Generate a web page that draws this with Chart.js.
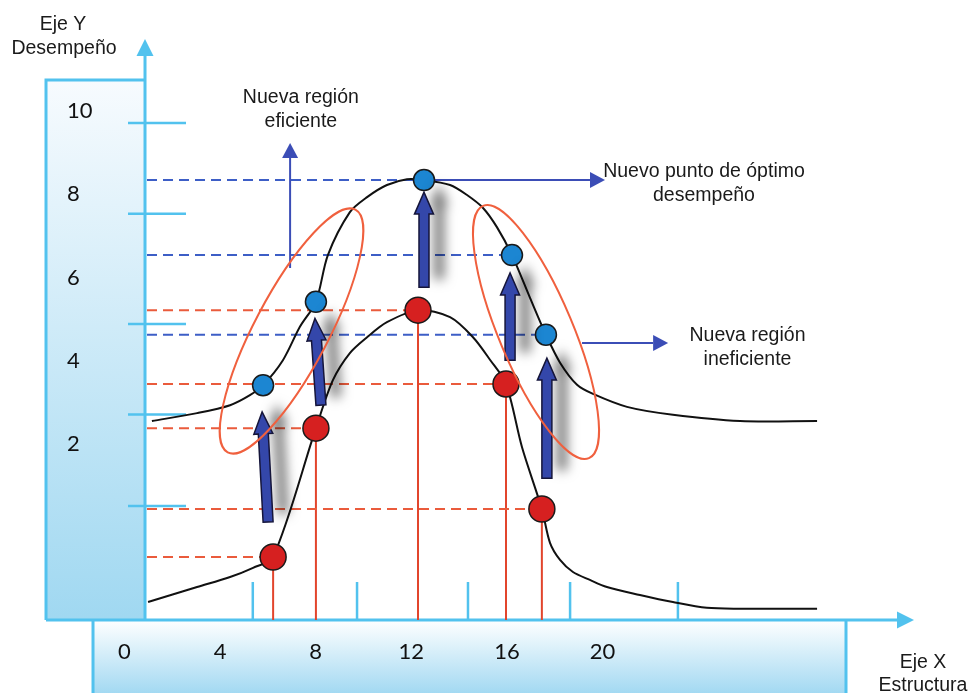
<!DOCTYPE html>
<html>
<head>
<meta charset="utf-8">
<script src="https://cdn.jsdelivr.net/npm/chart.js@4"></script>
<style>
  html, body { margin: 0; padding: 0; background: #ffffff; }
  #c { display: block; }
</style>
</head>
<body>
<canvas id="c" width="970" height="693"></canvas>
<script>
// ---------- DATA ----------
const xTickValues = [0, 4, 8, 12, 16, 20];
const xTickLabels = ['0', '4', '8', '12', '16', '20'];
const yTickValues = [10, 8, 6, 4, 2];
const yTickLabels = ['10', '8', '6', '4', '2'];
const xMinorTicks = [5.37, 9.73, 14.37, 18.64, 23.15];
const yMinorTicks = [9.71, 7.53, 4.89, 2.72, 0.52];

// upper (new) performance curve
const upperX = [1.15, 3.04, 4.42, 5.25, 5.80, 6.63, 7.34, 8.01, 8.51, 9.43, 10.15, 10.98, 11.82, 12.53, 13.62, 14.33, 15.00, 15.58, 16.21, 16.96, 17.63, 18.22, 18.93, 19.60, 21.02, 22.94, 25.75, 28.97];
const upperY = [2.56, 2.75, 2.94, 3.18, 3.42, 4.02, 4.82, 5.42, 6.54, 7.57, 7.93, 8.22, 8.36, 8.34, 8.22, 7.98, 7.67, 7.21, 6.54, 5.52, 4.63, 3.96, 3.43, 3.21, 2.90, 2.71, 2.56, 2.56];
// lower (original) performance curve
const lowerX = [0.99, 3.04, 4.42, 5.38, 6.22, 8.01, 8.72, 9.43, 10.15, 10.98, 12.28, 13.62, 14.58, 15.29, 15.96, 16.63, 17.46, 17.80, 18.22, 18.76, 19.47, 20.18, 21.56, 22.94, 24.36, 25.75, 28.97];
const lowerY = [-1.78, -1.42, -1.18, -0.96, -0.70, 2.39, 3.54, 4.19, 4.57, 4.93, 5.22, 5.05, 4.57, 4.03, 3.45, 1.93, 0.45, -0.36, -0.77, -1.06, -1.25, -1.42, -1.61, -1.78, -1.92, -1.94, -1.94];

// original points (red) and new points (blue)
const redX = [6.22, 8.01, 12.28, 15.96, 17.46];
const redY = [-0.70, 2.39, 5.22, 3.45, 0.45];
const blueX = [5.80, 8.01, 12.53, 16.21, 17.63];
const blueY = [3.42, 5.42, 8.34, 6.54, 4.63];
const blueGuideIndex = [2, 3, 4];

// thick "lift" arrows (from -> to, data units)
const liftFromX = [6.01, 8.22, 12.53, 16.13, 17.67];
const liftFromY = [0.14, 2.94, 5.77, 4.02, 1.19];
const liftToX = [5.76, 7.97, 12.53, 16.13, 17.67];
const liftToY = [2.78, 5.02, 8.05, 6.11, 4.07];

// thin note arrows
const noteFromX = [6.93, 12.53, 19.14];
const noteFromY = [6.23, 8.34, 4.43];
const noteToX = [6.93, 20.10, 22.74];
const noteToY = [9.23, 8.34, 4.43];

// region ellipses: major axis end points
const ellA_X = [4.32, 15.00];
const ellA_Y = [1.81, 7.72];
const ellB_X = [9.66, 19.43];
const ellB_Y = [7.63, 1.67];

// annotation texts
const noteTexts = [['Nueva región', 'eficiente'], ['Nuevo punto de óptimo', 'desempeño'], ['Nueva región', 'ineficiente']];
const noteTextX = [7.38, 24.24, 26.06];
const noteTextY = [10.31, 8.53, 4.60];
const yTitle = ['Eje Y', 'Desempeño'];
const xTitle = ['Eje X', 'Estructura'];

// axis crossing positions (data units)
const axisAtX = 0.862;
const axisAtY = -2.211;

// ---------- STYLE ----------
const CYAN = '#52c2ee';
const RED_LINE = '#e2452c';
const RED_DASH = '#ea5b3c';
const BLUE_DASH = '#3d5ec6';
const NOTE_BLUE = '#3b4db6';
const LIFT_BLUE = '#3447aa';
const ELL_RED = '#f0603e';
const TXT_FONT = '19.5px "Liberation Sans", Arial, sans-serif';
const TICK_FONT = '22px Lato, "Open Sans", sans-serif';

const pts = (xs, ys) => xs.map((v, i) => ({ x: v, y: ys[i] }));

function bigArrow(ctx, x1, y1, x2, y2) {
  const ang = Math.atan2(y2 - y1, x2 - x1);
  const len = Math.hypot(x2 - x1, y2 - y1);
  const sw = 5, hw = 9.5, hl = 22;
  ctx.save();
  ctx.translate(x1, y1);
  ctx.rotate(ang);
  ctx.beginPath();
  ctx.moveTo(0, -sw);
  ctx.lineTo(len - hl, -sw);
  ctx.lineTo(len - hl, -hw);
  ctx.lineTo(len, 0);
  ctx.lineTo(len - hl, hw);
  ctx.lineTo(len - hl, sw);
  ctx.lineTo(0, sw);
  ctx.closePath();
  ctx.shadowColor = 'rgba(0,0,0,0.55)';
  ctx.shadowBlur = 12;
  ctx.shadowOffsetX = 15;
  ctx.shadowOffsetY = -8;
  ctx.fillStyle = LIFT_BLUE;
  ctx.fill();
  ctx.shadowColor = 'rgba(0,0,0,0)';
  ctx.lineWidth = 1.5;
  ctx.strokeStyle = '#15153a';
  ctx.stroke();
  ctx.restore();
}

function thinArrow(ctx, x1, y1, x2, y2) {
  const ang = Math.atan2(y2 - y1, x2 - x1);
  const hl = 15, hw = 8;
  const c = Math.cos(ang), s = Math.sin(ang);
  ctx.beginPath();
  ctx.moveTo(x1, y1);
  ctx.lineTo(x2 - hl * c, y2 - hl * s);
  ctx.stroke();
  ctx.beginPath();
  ctx.moveTo(x2, y2);
  ctx.lineTo(x2 - hl * c - hw * s, y2 - hl * s + hw * c);
  ctx.lineTo(x2 - hl * c + hw * s, y2 - hl * s - hw * c);
  ctx.closePath();
  ctx.fill();
}

const deco = {
  id: 'deco',
  beforeDraw(chart) {
    const { ctx, width, height } = chart;
    const xs = chart.scales.x, ys = chart.scales.y;
    const X = v => xs.getPixelForValue(v), Y = v => ys.getPixelForValue(v);
    const ax = X(axisAtX), ay = Y(axisAtY);
    ctx.save();
    ctx.fillStyle = '#ffffff';
    ctx.fillRect(0, 0, width, height);

    // left panel
    const lpL = ax - 99, lpT = 80;
    let g = ctx.createLinearGradient(0, lpT, 0, ay);
    g.addColorStop(0, '#f7fbfe');
    g.addColorStop(1, '#a0d8f1');
    ctx.fillStyle = g;
    ctx.fillRect(lpL, lpT, ax - lpL, ay - lpT);
    // bottom panel
    const bpL = ax - 52, bpR = 846;
    g = ctx.createLinearGradient(0, ay, 0, height);
    g.addColorStop(0, '#ffffff');
    g.addColorStop(1, '#a3d9f2');
    ctx.fillStyle = g;
    ctx.fillRect(bpL, ay, bpR - bpL, height - ay);

    ctx.strokeStyle = CYAN;
    ctx.fillStyle = CYAN;
    ctx.lineWidth = 3;
    ctx.beginPath();
    ctx.moveTo(ax, lpT); ctx.lineTo(lpL, lpT); ctx.lineTo(lpL, ay);
    ctx.moveTo(bpL, ay); ctx.lineTo(bpL, height + 2);
    ctx.moveTo(bpR, ay); ctx.lineTo(bpR, height + 2);
    ctx.stroke();

    // axes
    ctx.beginPath();
    ctx.moveTo(ax, ay); ctx.lineTo(ax, 54);
    ctx.moveTo(lpL, ay); ctx.lineTo(900, ay);
    ctx.stroke();
    ctx.beginPath();
    ctx.moveTo(ax, 39); ctx.lineTo(ax - 8.5, 56); ctx.lineTo(ax + 8.5, 56); ctx.closePath();
    ctx.fill();
    ctx.beginPath();
    ctx.moveTo(914, ay); ctx.lineTo(897, ay - 8.5); ctx.lineTo(897, ay + 8.5); ctx.closePath();
    ctx.fill();

    // decorative minor ticks
    ctx.lineWidth = 2.5;
    ctx.beginPath();
    yMinorTicks.forEach(v => { ctx.moveTo(ax - 17, Y(v)); ctx.lineTo(ax + 41, Y(v)); });
    xMinorTicks.forEach(v => { ctx.moveTo(X(v), ay); ctx.lineTo(X(v), ay - 38); });
    ctx.stroke();

    // tick labels
    ctx.fillStyle = '#111111';
    ctx.font = TICK_FONT;
    ctx.textBaseline = 'middle';
    ctx.textAlign = 'left';
    yTickValues.forEach((v, i) => ctx.fillText(yTickLabels[i], ax - 78, Y(v)));
    ctx.textAlign = 'center';
    xTickValues.forEach((v, i) => ctx.fillText(xTickLabels[i], X(v), ay + 32));

    // axis titles
    ctx.font = TXT_FONT;
    ctx.fillStyle = '#1a1a1a';
    ctx.fillText(yTitle[0], ax - 82, 25);
    ctx.fillText(yTitle[1], ax - 81, 49);
    ctx.fillText(xTitle[0], 923, 663);
    ctx.fillText(xTitle[1], 923, 686);
    ctx.restore();
  },
  beforeDatasetsDraw(chart) {
    const { ctx } = chart;
    const xs = chart.scales.x, ys = chart.scales.y;
    const X = v => xs.getPixelForValue(v), Y = v => ys.getPixelForValue(v);
    const ax = X(axisAtX), ay = Y(axisAtY);
    ctx.save();
    // red verticals
    ctx.strokeStyle = RED_LINE;
    ctx.lineWidth = 2;
    ctx.beginPath();
    redX.forEach((v, i) => { ctx.moveTo(X(v), Y(redY[i])); ctx.lineTo(X(v), ay); });
    ctx.stroke();
    // dashed guides
    ctx.setLineDash([10, 6]);
    ctx.strokeStyle = RED_DASH;
    ctx.beginPath();
    redX.forEach((v, i) => { ctx.moveTo(ax + 2, Y(redY[i])); ctx.lineTo(X(v), Y(redY[i])); });
    ctx.stroke();
    ctx.strokeStyle = BLUE_DASH;
    ctx.beginPath();
    blueGuideIndex.forEach(i => { ctx.moveTo(ax + 2, Y(blueY[i])); ctx.lineTo(X(blueX[i]), Y(blueY[i])); });
    ctx.stroke();
    ctx.setLineDash([]);
    // thin note arrows
    ctx.strokeStyle = NOTE_BLUE;
    ctx.fillStyle = NOTE_BLUE;
    ctx.lineWidth = 2;
    noteFromX.forEach((v, i) => thinArrow(ctx, X(v), Y(noteFromY[i]), X(noteToX[i]), Y(noteToY[i])));
    ctx.restore();
  },
  afterDatasetsDraw(chart) {
    const { ctx } = chart;
    const xs = chart.scales.x, ys = chart.scales.y;
    const X = v => xs.getPixelForValue(v), Y = v => ys.getPixelForValue(v);
    ctx.save();
    liftFromX.forEach((v, i) => bigArrow(ctx, X(v), Y(liftFromY[i]), X(liftToX[i]), Y(liftToY[i])));
    // ellipses
    ctx.strokeStyle = ELL_RED;
    ctx.lineWidth = 2;
    ellA_X.forEach((v, i) => {
      const x1 = X(v), y1 = Y(ellA_Y[i]), x2 = X(ellB_X[i]), y2 = Y(ellB_Y[i]);
      const cx = (x1 + x2) / 2, cy = (y1 + y2) / 2;
      const a = Math.hypot(x2 - x1, y2 - y1) / 2;
      ctx.beginPath();
      ctx.ellipse(cx, cy, a, 37, Math.atan2(y2 - y1, x2 - x1), 0, Math.PI * 2);
      ctx.stroke();
    });
    // note texts
    ctx.font = TXT_FONT;
    ctx.fillStyle = '#1a1a1a';
    ctx.textAlign = 'center';
    ctx.textBaseline = 'middle';
    noteTexts.forEach((lines, i) => {
      lines.forEach((t, k) => ctx.fillText(t, X(noteTextX[i]), Y(noteTextY[i]) + k * 23.5));
    });
    ctx.restore();
  }
};

const PX_X = 23.91, X0 = 124.4, PX_Y = 41.7, Y0 = 527.8;
new Chart(document.getElementById('c'), {
  type: 'line',
  data: {
    datasets: [
      { data: pts(lowerX, lowerY), borderColor: '#111111', borderWidth: 2, pointRadius: 0, tension: 0.3, fill: false, order: 4 },
      { data: pts(upperX, upperY), borderColor: '#111111', borderWidth: 2, pointRadius: 0, tension: 0.3, fill: false, order: 3 },
      { type: 'scatter', data: pts(redX, redY), showLine: false, pointRadius: 13, backgroundColor: '#d62020', borderColor: '#1a1a1a', borderWidth: 1.5, order: 2 },
      { type: 'scatter', data: pts(blueX, blueY), showLine: false, pointRadius: 10.5, backgroundColor: '#1c86d2', borderColor: '#1a1a1a', borderWidth: 1.5, order: 1 }
    ]
  },
  options: {
    responsive: false,
    animation: false,
    devicePixelRatio: 1,
    events: [],
    layout: { padding: 0, autoPadding: false },
    plugins: { legend: { display: false }, tooltip: { enabled: false }, title: { display: false } },
    scales: {
      x: { type: 'linear', display: false, min: -X0 / PX_X, max: (970 - X0) / PX_X },
      y: { type: 'linear', display: false, min: (Y0 - 693) / PX_Y, max: Y0 / PX_Y }
    }
  },
  plugins: [deco]
});
</script>
</body>
</html>
